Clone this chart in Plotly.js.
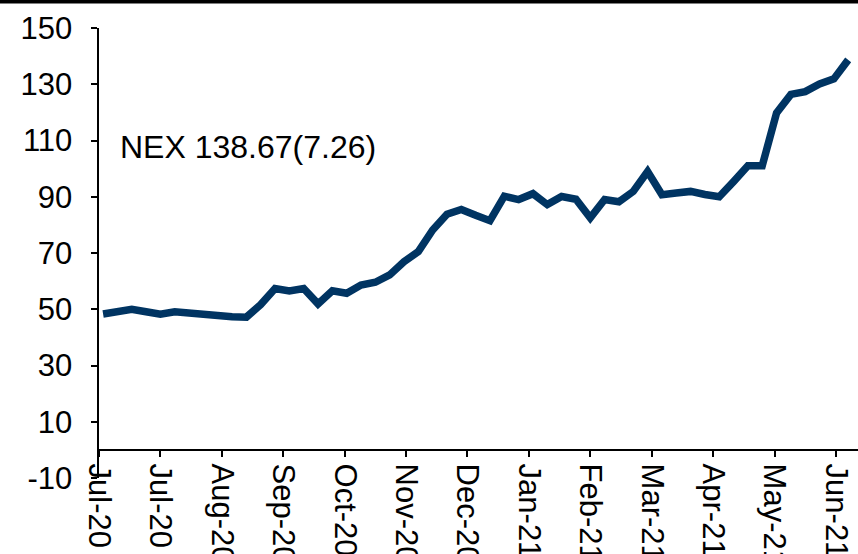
<!DOCTYPE html>
<html>
<head>
<meta charset="utf-8">
<script src="https://cdn.plot.ly/plotly-3.0.1.min.js"></script>
<style>
  html, body { margin: 0; padding: 0; background: #ffffff; }
  #chart { width: 858px; height: 554px; }
</style>
</head>
<body>
<div id="chart"></div>
<script>
// Weekly observation dates (Fridays)
const dates = [
  "2020-07-03","2020-07-10","2020-07-17","2020-07-24","2020-07-31",
  "2020-08-07","2020-08-14","2020-08-21","2020-08-28",
  "2020-09-04","2020-09-11","2020-09-18","2020-09-25",
  "2020-10-02","2020-10-09","2020-10-16","2020-10-23","2020-10-30",
  "2020-11-06","2020-11-13","2020-11-20","2020-11-27",
  "2020-12-04","2020-12-11","2020-12-18","2020-12-25",
  "2021-01-01","2021-01-08","2021-01-15","2021-01-22","2021-01-29",
  "2021-02-05","2021-02-12","2021-02-19","2021-02-26",
  "2021-03-05","2021-03-12","2021-03-19","2021-03-26",
  "2021-04-02","2021-04-09","2021-04-16","2021-04-23","2021-04-30",
  "2021-05-07","2021-05-14","2021-05-21","2021-05-28",
  "2021-06-04","2021-06-11","2021-06-18","2021-06-25",
  "2021-07-02"
];

// NEX index values
const nex = [
  48.3, 49.1, 50.0, 49.1, 48.2,
  49.1, 48.5, 48.3, 47.3,
  47.3, 47.2, 51.7, 57.4,
  56.5, 57.4, 51.9, 56.6, 55.7,
  58.6, 59.6, 62.2, 66.9,
  70.5, 78.2, 83.8, 85.5,
  83.4, 81.5, 90.2, 89.0, 91.1,
  87.2, 90.1, 89.1, 82.5,
  89.0, 88.2, 91.9, 99.0,
  90.7, 91.3, 91.9, 90.8, 90.0,
  95.4, 101.0, 101.0, 119.8,
  126.4, 127.4, 130.1, 131.9,
  138.67
];

// X-axis tick positions (every 30 days) and labels
const tickDates = [
  "2020-07-01","2020-07-31","2020-08-30","2020-09-29","2020-10-29",
  "2020-11-28","2020-12-28","2021-01-27","2021-02-26","2021-03-28",
  "2021-04-27","2021-05-27","2021-06-26"
];
const tickLabels = [
  "Jul-20","Jul-20","Aug-20","Sep-20","Oct-20","Nov-20","Dec-20",
  "Jan-21","Feb-21","Mar-21","Apr-21","May-21","Jun-21"
];

const yTicks = [-10, 10, 30, 50, 70, 90, 110, 130, 150];
const labelText = "NEX 138.67(7.26)";

const FONT = 'Arial, "Liberation Sans", sans-serif';

const trace = {
  x: dates,
  y: nex,
  type: 'scatter',
  mode: 'lines',
  line: { color: '#003462', width: 7.5, shape: 'linear' },
  hoverinfo: 'skip',
  showlegend: false
};

const layout = {
  width: 858,
  height: 554,
  margin: { l: 99, r: 0, t: 28, b: 76, pad: 0 },
  paper_bgcolor: '#ffffff',
  plot_bgcolor: '#ffffff',
  font: { family: FONT, color: '#000000', size: 31 },
  showlegend: false,
  xaxis: {
    type: 'date',
    range: ['2020-07-01', '2021-07-06 19:00'],
    tickmode: 'array',
    tickvals: tickDates,
    ticktext: tickLabels,
    tickangle: 90,
    ticks: 'outside',
    ticklen: 6,
    tickwidth: 2,
    tickcolor: '#000000',
    tickfont: { family: FONT, size: 31, color: '#000000' },
    showline: true,
    linecolor: '#000000',
    linewidth: 2.5,
    showgrid: false,
    zeroline: false,
    anchor: 'free',
    position: 0.0625,
    automargin: false
  },
  yaxis: {
    range: [-10, 150],
    tickmode: 'array',
    tickvals: yTicks,
    ticktext: yTicks.map(String),
    ticks: 'outside',
    ticklen: 6,
    tickwidth: 2,
    tickcolor: '#000000',
    tickfont: { family: FONT, size: 31, color: '#000000' },
    ticklabelstandoff: 12,
    showline: true,
    linecolor: '#000000',
    linewidth: 2.5,
    showgrid: false,
    zeroline: false,
    automargin: false
  },
  annotations: [{
    xref: 'paper', yref: 'y',
    x: 0.025, y: 107.8,
    xanchor: 'left', yanchor: 'middle',
    text: labelText,
    showarrow: false,
    font: { family: FONT, size: 32, color: '#000000' }
  }],
  shapes: [{
    type: 'rect',
    xref: 'paper', yref: 'paper',
    x0: -0.2, x1: 1.05,
    y0: 1 + 24.5 / 450, y1: 1 + 30 / 450,
    fillcolor: '#000000',
    line: { width: 0 },
    layer: 'above'
  }]
};

Plotly.newPlot('chart', [trace], layout, { staticPlot: true, displayModeBar: false });
</script>
</body>
</html>
